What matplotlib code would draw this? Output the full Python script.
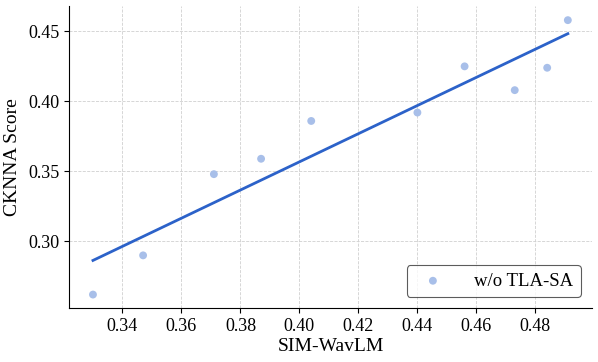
import numpy as np
import matplotlib
matplotlib.use("Agg")
import matplotlib.pyplot as plt

plt.rcParams["font.family"] = ["Liberation Serif", "DejaVu Serif"]

sim_wavlm = [0.330, 0.347, 0.371, 0.387, 0.404, 0.440, 0.456, 0.473, 0.484, 0.491]
cknna = [0.262, 0.290, 0.348, 0.359, 0.386, 0.392, 0.425, 0.408, 0.424, 0.458]
label = "w/o TLA-SA"

x = np.array(sim_wavlm)
y = np.array(cknna)

fig, ax = plt.subplots(figsize=(5.98, 3.62), dpi=100)

ax.scatter(x, y, s=32, color="#a8bfe9", edgecolors="none", label=label, zorder=3)

# linear fit
slope, intercept = np.polyfit(x, y, 1)
xs = np.array([x.min(), x.max()])
ax.plot(xs, slope * xs + intercept, color="#2c62c9", linewidth=2, zorder=2)

ax.set_xlim(0.322, 0.4992)
ax.set_ylim(0.2521, 0.468)
ax.set_xticks([0.34, 0.36, 0.38, 0.40, 0.42, 0.44, 0.46, 0.48])
ax.set_yticks([0.30, 0.35, 0.40, 0.45])
ax.xaxis.set_major_formatter(matplotlib.ticker.FormatStrFormatter("%.2f"))
ax.yaxis.set_major_formatter(matplotlib.ticker.FormatStrFormatter("%.2f"))

ax.grid(True, linestyle="--", linewidth=0.6, color="#d0d0d0")
ax.set_axisbelow(True)
ax.spines["top"].set_visible(False)
ax.spines["right"].set_visible(False)
ax.tick_params(labelsize=13)

ax.set_xlabel("SIM-WavLM", fontsize=14, labelpad=2)
ax.set_ylabel("CKNNA Score", fontsize=14, labelpad=5)

leg = ax.legend(loc="lower right", fontsize=13.5, frameon=True, handletextpad=1.2,
                borderaxespad=0.6)
leg.get_frame().set_edgecolor("#333333")
leg.get_frame().set_linewidth(0.8)

fig.subplots_adjust(left=0.116, right=0.99, bottom=0.148, top=0.983)
fig.savefig("out.png", dpi=100)
